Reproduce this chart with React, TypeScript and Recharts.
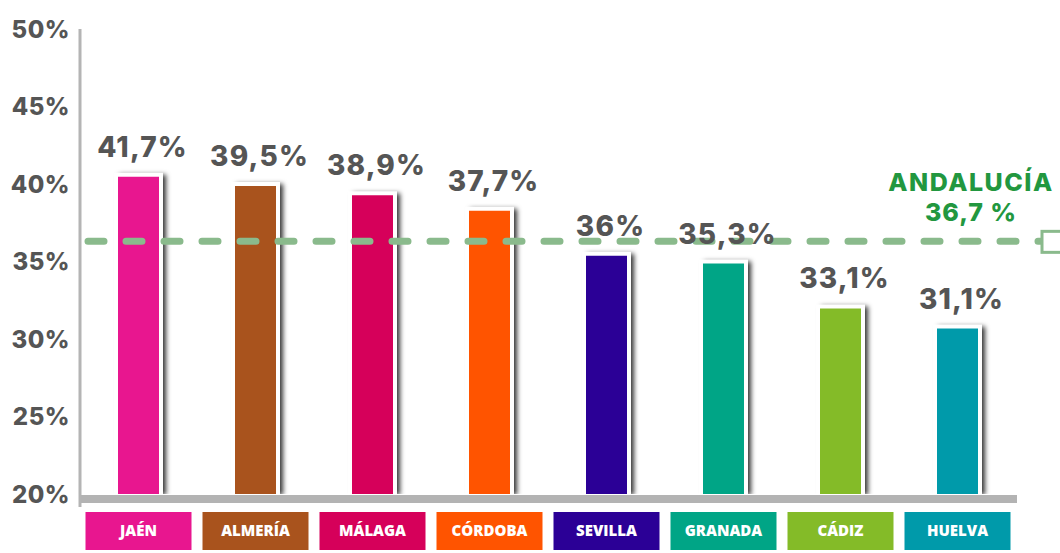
import { Bar, BarChart, Cell, LabelList, ReferenceLine, XAxis, YAxis } from "recharts"

const provinces = ["JAÉN", "ALMERÍA", "MÁLAGA", "CÓRDOBA", "SEVILLA", "GRANADA", "CÁDIZ", "HUELVA"]
// bar heights as drawn in the picture
const barValues = [40.6, 40.0, 39.4, 38.4, 35.5, 35.0, 32.1, 30.8]
// printed labels above the bars
const valueLabels = ["41,7%", "39,5%", "38,9%", "37,7%", "36%", "35,3%", "33,1%", "31,1%"]
const barColors = ["#e8168f", "#a9531d", "#d6005a", "#ff5400", "#2b0096", "#00a586", "#84bb28", "#009aaa"]
const yTicks = [20, 25, 30, 35, 40, 45, 50]
const andaluciaLevel = 36.3
const andaluciaTitle = "ANDALUCÍA"
const andaluciaLabel = "36,7 %"

const data = provinces.map((name, i) => ({
  name,
  value: barValues[i],
  label: valueLabels[i],
}))

const GRAY = "#555555"
const LINE_GREEN = "#8aba8c"
const TEXT_GREEN = "#22973f"
const HEAVY = "Inter, Lato, sans-serif"

function BarShape(props: any) {
  const { x, y, width, height, fill } = props
  return (
    <g>
      <rect x={x - 1} y={y - 1} width={width + 2} height={height + 1} fill="#fff" filter="url(#barShadow)" />
      <rect x={x} y={y} width={width} height={height} fill={fill} />
      <path
        d={`M${x},${y + height} L${x},${y} L${x + width},${y} L${x + width},${y + height}`}
        fill="none"
        stroke="#fff"
        strokeWidth={4}
      />
    </g>
  )
}

function CategoryTick(props: any) {
  const { x, y, payload, index } = props
  const color = barColors[index] ?? barColors[provinces.indexOf(payload.value)]
  return (
    <g>
      <rect x={x - 53} y={y + 18} width={106} height={38} fill={color} />
      <text
        x={x}
        y={y + 37}
        dy="0.35em"
        textAnchor="middle"
        fill="#fff"
        fontFamily="'Open Sans', sans-serif"
        fontWeight={800}
        fontSize={15}
      >
        {payload.value}
      </text>
    </g>
  )
}

function ValueLabel(props: any) {
  const { x, y, width, value } = props
  return (
    <text
      x={x + width / 2 + 4}
      y={y - 18}
      textAnchor="middle"
      fill={GRAY}
      fontFamily={HEAVY}
      fontWeight={800}
      fontSize={28}
      letterSpacing={1.2}
    >
      {value}
    </text>
  )
}

function AndaluciaLine(props: any) {
  const { x1, x2, y1 } = props
  const end = x2 + 26
  return (
    <g>
      <line
        x1={x1 + 8}
        x2={end}
        y1={y1}
        y2={y1}
        stroke={LINE_GREEN}
        strokeWidth={7}
        strokeDasharray="16 22"
        strokeLinecap="round"
      />
      <rect x={end} y={y1 - 10} width={24} height={21} fill="#fff" stroke={LINE_GREEN} strokeWidth={3} />
      <text
        x={x2 - 45}
        y={y1 - 59}
        dy="0.36em"
        textAnchor="middle"
        fill={TEXT_GREEN}
        fontFamily={HEAVY}
        fontWeight={800}
        fontSize={25}
        letterSpacing={1.5}
      >
        {andaluciaTitle}
      </text>
      <text
        x={x2 - 45}
        y={y1 - 29}
        dy="0.36em"
        textAnchor="middle"
        fill={TEXT_GREEN}
        fontFamily={HEAVY}
        fontWeight={800}
        fontSize={25}
        letterSpacing={1}
      >
        {andaluciaLabel}
      </text>
    </g>
  )
}

function BaseLine(props: any) {
  const { x1, x2, y1 } = props
  return (
    <g>
      <line x1={x1} x2={x1} y1={y1} y2={y1 + 13} stroke="#b4b4b4" strokeWidth={3} />
      <line x1={x1 + 1} x2={x2 + 1} y1={y1 + 5} y2={y1 + 5} stroke="#b3b3b3" strokeWidth={8} />
    </g>
  )
}

export default function App() {
  return (
    <div style={{ position: "absolute", left: 0, top: 0, width: 1060, height: 553, background: "#fff" }}>
      <BarChart width={1060} height={553} data={data} margin={{ top: 29, right: 44, bottom: 0, left: 0 }}>
        <defs>
          <filter id="barShadow" x="-30%" y="-10%" width="160%" height="130%">
            <feDropShadow dx={4} dy={1} stdDeviation={2.5} floodColor="#000" floodOpacity={0.8} />
          </filter>
        </defs>
        <YAxis
          type="number"
          domain={[20, 50]}
          ticks={yTicks}
          width={80}
          tickFormatter={(v: number) => `${v}%`}
          axisLine={{ stroke: "#b4b4b4", strokeWidth: 3 }}
          tickLine={false}
          tickSize={6}
          tickMargin={4}
          tick={{ fill: GRAY, fontSize: 24, fontWeight: 800, fontFamily: HEAVY, letterSpacing: 0.5 }}
          allowDataOverflow
        />
        <XAxis
          dataKey="name"
          height={59}
          axisLine={false}
          tickLine={false}
          tickSize={0}
          tickMargin={0}
          interval={0}
          tick={<CategoryTick />}
        />
        <Bar dataKey="value" barSize={45} shape={<BarShape />} isAnimationActive={false}>
          {data.map((d, i) => (
            <Cell key={d.name} fill={barColors[i]} />
          ))}
          <LabelList dataKey="label" content={<ValueLabel />} />
        </Bar>
        <ReferenceLine y={20} shape={(p: any) => <BaseLine {...p} />} />
        <ReferenceLine y={andaluciaLevel} shape={(p: any) => <AndaluciaLine {...p} />} />
      </BarChart>
    </div>
  )
}
